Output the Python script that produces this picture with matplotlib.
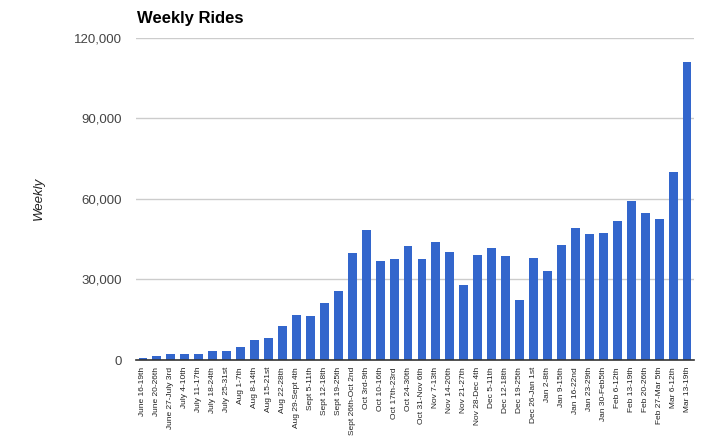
import matplotlib
matplotlib.use("Agg")
import matplotlib.pyplot as plt
from matplotlib.ticker import FuncFormatter

plt.rcParams["font.family"] = ["Liberation Sans", "DejaVu Sans"]

weeks = ["June 16-19th", "June 20-26th", "June 27-July 3rd", "July 4-10th", "July 11-17th",
         "July 18-24th", "July 25-31st", "Aug 1-7th", "Aug 8-14th", "Aug 15-21st",
         "Aug 22-28th", "Aug 29-Sept 4th", "Sept 5-11th", "Sept 12-18th", "Sept 19-25th",
         "Sept 26th-Oct 2nd", "Oct 3rd-9th", "Oct 10-16th", "Oct 17th-23rd", "Oct 24-30th",
         "Oct 31-Nov 6th", "Nov 7-13th", "Nov 14-20th", "Nov 21-27th", "Nov 28-Dec 4th",
         "Dec 5-11th", "Dec 12-18th", "Dec 19-25th", "Dec 26-Jan 1st", "Jan 2-8th",
         "Jan 9-15th", "Jan 16-22nd", "Jan 23-29th", "Jan 30-Feb5th", "Feb 6-12th",
         "Feb 13-19th", "Feb 20-26th", "Feb 27-Mar 5th", "Mar 6-12th", "Mar 13-19th"]
rides = [800, 1500, 2200, 2200, 2200, 3350, 3350, 4800, 7450, 8200,
         12650, 16750, 16400, 21200, 25700, 39800, 48350, 36800, 37550, 42400,
         37550, 43900, 40200, 27900, 39050, 41650, 38700, 22300, 37950, 33100,
         42800, 49100, 46900, 47250, 51700, 59150, 54700, 52450, 69900, 110850]
yticks = [0, 30000, 60000, 90000, 120000]

fig = plt.figure(figsize=(7.17, 4.44), dpi=100)
ax = fig.add_axes([136/717, 1-360/444, (694-136)/717, (360-37.5)/444])
x = list(range(len(weeks)))
ax.bar(x, rides, width=0.64, color="#3366cc", zorder=3)
ax.set_xlim(-0.5, len(weeks)-0.5)
ax.set_ylim(0, 120000)
ax.set_yticks(yticks)
ax.yaxis.set_major_formatter(FuncFormatter(lambda v, p: f"{int(v):,}"))
ax.grid(axis="y", color="#cccccc", linewidth=1, zorder=0)
for s in ["top", "right", "left"]:
    ax.spines[s].set_visible(False)
ax.spines["bottom"].set_color("#333333")
ax.spines["bottom"].set_linewidth(1.2)
ax.spines["bottom"].set_zorder(4)
ax.tick_params(axis="y", length=0, pad=10, labelsize=9.5, labelcolor="#444444")
ax.set_xticks(x)
ax.set_xticklabels(weeks, rotation=90, fontsize=6, color="#222222")
ax.tick_params(axis="x", length=0, pad=5)
fig.text(137/717, 1-19/444, "Weekly Rides", fontsize=12, fontweight="bold", ha="left", va="center")
fig.text(39/717, 1-198/444, "Weekly", fontsize=9.5, style="italic", rotation=90, ha="center", va="center", color="#222222")
fig.savefig("out.png", dpi=100)
